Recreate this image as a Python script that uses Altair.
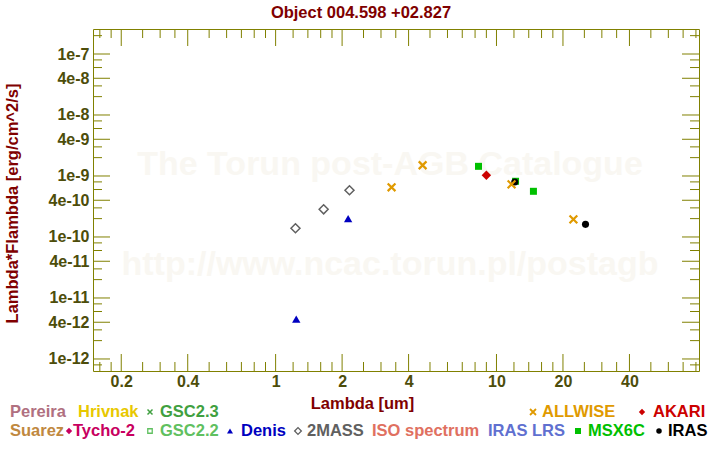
import altair as alt
import pandas as pd

TITLE = "Object 004.598 +02.827"
X_TITLE = "Lambda [um]"
Y_TITLE = "Lambda*Flambda [erg/cm^2/s]"

# photometry: wavelength [um], lambda*F_lambda [erg/cm^2/s]
MASS2_WL = [1.23, 1.65, 2.16]
MASS2_F = [1.39e-10, 2.84e-10, 5.83e-10]
DENIS_WL = [1.24, 2.13]
DENIS_F = [4.48e-12, 2.0e-10]
ALLWISE_WL = [3.35, 4.63, 11.7, 22.3]
ALLWISE_F = [6.53e-10, 1.50e-9, 7.31e-10, 1.95e-10]
MSX_WL = [8.29, 12.2, 14.7]
MSX_F = [1.44e-9, 8.19e-10, 5.61e-10]
AKARI_WL = [9.0]
AKARI_F = [1.03e-9]
IRAS_WL = [12.1, 25.3]
IRAS_F = [7.97e-10, 1.61e-10]

# axis ticks
X_MAJOR = [0.2, 0.4, 1, 2, 4, 10, 20, 40]
X_MINOR = [0.16, 0.18, 0.25, 0.3, 0.35, 0.5, 0.6, 0.7, 0.8, 0.9,
           1.2, 1.4, 1.6, 1.8, 2.5, 3, 3.5, 5, 6, 7, 8, 9,
           12, 14, 16, 18, 25, 30, 35, 50, 60, 70, 80]
Y_MAJOR = [1e-12, 4e-12, 1e-11, 4e-11, 1e-10, 4e-10, 1e-9, 4e-9, 1e-8, 4e-8, 1e-7]
Y_MINOR = [8e-13, 2e-12, 3e-12, 6e-12, 8e-12, 2e-11, 3e-11, 6e-11, 8e-11,
           2e-10, 3e-10, 6e-10, 8e-10, 2e-9, 3e-9, 6e-9, 8e-9,
           2e-8, 3e-8, 6e-8, 8e-8, 2e-7]

# legend
LEG_ROW1 = ["Pereira", "Hrivnak", "GSC2.3", "ALLWISE", "AKARI"]
LEG_ROW2 = ["Suarez", "Tycho-2", "GSC2.2", "Denis", "2MASS", "ISO spectrum", "IRAS LRS", "MSX6C", "IRAS"]
WATERMARK = ["The Torun post-AGB Catalogue", "http://www.ncac.torun.pl/postagb"]

W, H = 606, 342
PADL, PADT = 93, 29
OLIVE = "#808000"
LABEL_C = "#4d4d0a"
MAROON = "#800000"
FONT = "Liberation Sans"
TFS = 16.5

xs = alt.Scale(type="log", domain=[0.149, 82.6], nice=False)
ys = alt.Scale(type="log", domain=[6.35e-13, 2.57e-7], nice=False)

x_axis = alt.Axis(values=X_MAJOR, format="~g", ticks=False, domain=False, grid=False,
                  labelFont=FONT, labelFontSize=16, labelFontWeight="bold", labelColor=LABEL_C,
                  labelPadding=2, labelFlush=False, labelOverlap=False,
                  title=X_TITLE, titleFont=FONT, titleFontSize=TFS, titleFontWeight="bold",
                  titleColor=MAROON, titleX=269, titleY=32, titleBaseline="middle", titleAlign="center")
y_axis = alt.Axis(values=Y_MAJOR, format=".0e", ticks=False, domain=False, grid=False,
                  labelFont=FONT, labelFontSize=16, labelFontWeight="bold", labelColor=LABEL_C,
                  labelPadding=4, labelFlush=False, labelOverlap=False,
                  title=Y_TITLE, titleFont=FONT, titleFontSize=TFS, titleFontWeight="bold",
                  titleColor=MAROON, titleX=-81, titleY=174, titleAngle=270,
                  titleBaseline="middle", titleAlign="center")

XE = dict(scale=xs, axis=x_axis)
YE = dict(scale=ys, axis=y_axis)


def pts(wl, f, **mark):
    return alt.Chart(pd.DataFrame({"wl": wl, "f": f})).mark_point(**mark).encode(
        x=alt.X("wl:Q", **XE),
        y=alt.Y("f:Q", **YE),
    )


XSHAPE = "M-1,-1L1,1M-1,1L1,-1"

layers = []
one = pd.DataFrame({"a": [0]})

# watermark
WM = dict(font=FONT, fontSize=34, fontWeight="bold", color="#f9f7f2", align="center",
          baseline="alphabetic")
layers.append(alt.Chart(one).mark_text(text=WATERMARK[0], x=297, y=146, **WM))
layers.append(alt.Chart(one).mark_text(text=WATERMARK[1], x=297, y=246, **WM))


# ticks (inward, on all four sides)
def xticks(vals, y0, y1):
    return alt.Chart(pd.DataFrame({"v": vals})).mark_rule(color=OLIVE, strokeWidth=1).encode(
        x=alt.X("v:Q", **XE), y=alt.value(y0), y2=alt.value(y1))


def yticks(vals, x0, x1):
    return alt.Chart(pd.DataFrame({"v": vals})).mark_rule(color=OLIVE, strokeWidth=1).encode(
        y=alt.Y("v:Q", **YE), x=alt.value(x0), x2=alt.value(x1))


MAJ, MIN = 17, 9
layers += [
    xticks(X_MAJOR, H, H - MAJ), xticks(X_MINOR, H, H - MIN),
    xticks(X_MAJOR, 0, MAJ), xticks(X_MINOR, 0, MIN),
    yticks(Y_MAJOR, 0, MAJ), yticks(Y_MINOR, 0, MIN),
    yticks(Y_MAJOR, W, W - MAJ), yticks(Y_MINOR, W, W - MIN),
]

# data
layers.append(pts(MASS2_WL, MASS2_F, shape="diamond", size=81, filled=False,
                  color="#606060", strokeWidth=1.5, opacity=1))
layers.append(pts(DENIS_WL, DENIS_F, shape="triangle-up", size=70, filled=True, color="#0000c0", opacity=1))
layers.append(pts(MSX_WL, MSX_F, shape="square", size=49, filled=True, color="#00c000", opacity=1))
layers.append(pts(AKARI_WL, AKARI_F, shape="diamond", size=90, filled=True, color="#cc0000", opacity=1))
layers.append(pts(IRAS_WL, IRAS_F, shape="circle", size=50, filled=True, color="#000000", opacity=1))
layers.append(pts(ALLWISE_WL, ALLWISE_F, shape=XSHAPE, size=60, filled=False, color="#e09a00",
                  strokeWidth=2.2, opacity=1))

# title
layers.append(alt.Chart(one).mark_text(text=TITLE, x=361 - PADL, y=18 - PADT, font=FONT, fontSize=TFS,
                                       fontWeight="bold", color=MAROON, align="center",
                                       baseline="alphabetic"))

# legend
R1, R2 = 417 - PADT, 436 - PADT
S1, S2 = 412 - PADT, 431 - PADT


def ltext(txt, x, y, color):
    return alt.Chart(one).mark_text(text=txt, x=x - PADL, y=y, font=FONT, fontSize=TFS,
                                    fontWeight="bold", color=color, align="left",
                                    baseline="alphabetic")


def lsym(x, y, color, shape, size, filled=True, sw=1):
    return alt.Chart(one).mark_point(x=x - PADL, y=y, shape=shape, size=size, filled=filled,
                                     color=color, strokeWidth=sw, opacity=1)


layers += [
    ltext(LEG_ROW1[0], 10, R1, "#b07080"),
    ltext(LEG_ROW1[1], 78, R1, "#e8c800"),
    lsym(150, S1, "#40a040", XSHAPE, 25, filled=False, sw=1.5),
    ltext(LEG_ROW1[2], 160, R1, "#40a040"),
    lsym(533, S1, "#e09a00", XSHAPE, 36, filled=False, sw=1.8),
    ltext(LEG_ROW1[3], 542, R1, "#e09a00"),
    lsym(642, S1, "#cc0000", "diamond", 40),
    ltext(LEG_ROW1[4], 653, R1, "#cc0000"),
    ltext(LEG_ROW2[0], 10, R2, "#c08840"),
    lsym(69, S2, "#c80060", "diamond", 40),
    ltext(LEG_ROW2[1], 73, R2, "#c80060"),
    lsym(150, S2, "#60c060", "square", 20, filled=False, sw=1.3),
    ltext(LEG_ROW2[2], 160, R2, "#60c060"),
    lsym(230, S2, "#0000c0", "triangle-up", 36),
    ltext(LEG_ROW2[3], 241, R2, "#0000c0"),
    lsym(298, S2, "#606060", "diamond", 45, filled=False, sw=1.3),
    ltext(LEG_ROW2[4], 307, R2, "#606060"),
    ltext(LEG_ROW2[5], 372, R2, "#e07060"),
    ltext(LEG_ROW2[6], 488, R2, "#6070d0"),
    lsym(578, S2, "#00c000", "square", 36),
    ltext(LEG_ROW2[7], 588, R2, "#00c000"),
    lsym(659, S2, "#000000", "circle", 30),
    ltext(LEG_ROW2[8], 668, R2, "#000000"),
]

chart = alt.layer(*layers).properties(
    width=W, height=H,
    autosize=alt.AutoSizeParams(type="none"),
    padding={"left": PADL, "top": PADT, "right": 720 - PADL - W, "bottom": 450 - PADT - H},
    background="white",
).configure_view(stroke=OLIVE, strokeWidth=1)

chart.save("out.html", embed_options={"renderer": "svg", "actions": False})
